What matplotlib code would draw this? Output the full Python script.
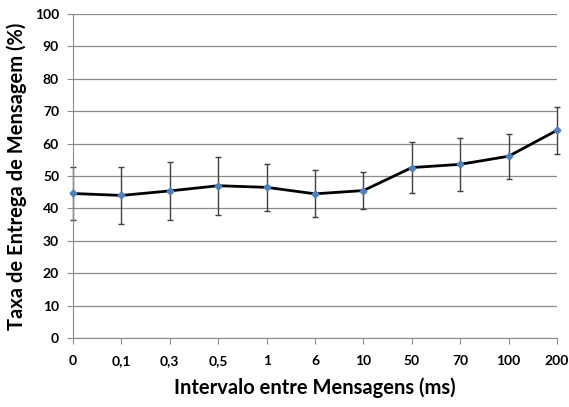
import matplotlib
matplotlib.use("Agg")
import matplotlib.pyplot as plt
import numpy as np

categorias = ["0", "0,1", "0,3", "0,5", "1", "6", "10", "50", "70", "100", "200"]
taxa = [44.6, 44.0, 45.4, 47.0, 46.5, 44.5, 45.5, 52.6, 53.6, 56.1, 64.1]
erro = [8.1, 8.9, 9.0, 9.0, 7.2, 7.3, 5.8, 7.8, 8.2, 7.0, 7.3]

plt.rcParams['font.family'] = ['Lato', 'DejaVu Sans']

fig = plt.figure(figsize=(5.69, 4.07), dpi=100)
ax = fig.add_axes([73 / 569, 69 / 407, 484 / 569, 324 / 407])

x = np.arange(len(categorias))
eb = ax.errorbar(x, taxa, yerr=erro, fmt='none', ecolor='#404040', elinewidth=1,
                 capsize=2.5, capthick=1, zorder=2)
for art in eb.lines[1] + eb.lines[2]:
    art.set_clip_on(False)
ax.plot(x, taxa, color='black', linewidth=2, zorder=3, clip_on=False)
ax.plot(x, taxa, linestyle='none', marker='D', markersize=3.5,
        color='#4f81bd', zorder=4, clip_on=False)

ax.set_xlim(0, len(categorias) - 1)
ax.set_ylim(0, 100)
ax.set_yticks(range(0, 101, 10))
ax.set_xticks(x)
ax.set_xticklabels(categorias)
ax.yaxis.grid(True, color='#8c8c8c', linewidth=0.9)
ax.set_axisbelow(True)

for s in ['top', 'right']:
    ax.spines[s].set_visible(False)
ax.spines['left'].set_color('#8c8c8c')
ax.spines['bottom'].set_color('#8c8c8c')
ax.tick_params(axis='both', colors='#8c8c8c', length=4, labelcolor='black',
               labelsize=10, pad=6)
ax.tick_params(axis='x', pad=8)
for lbl in ax.get_xticklabels() + ax.get_yticklabels():
    lbl.set_fontweight('bold')

ax.set_xlabel('Intervalo entre Mensagens (ms)', fontsize=14.5, fontweight='bold',
              labelpad=8)
ax.set_ylabel('Taxa de Entrega de Mensagem (%)', fontsize=14.5, fontweight='bold',
              labelpad=6)

fig.savefig('out.png', dpi=100)
